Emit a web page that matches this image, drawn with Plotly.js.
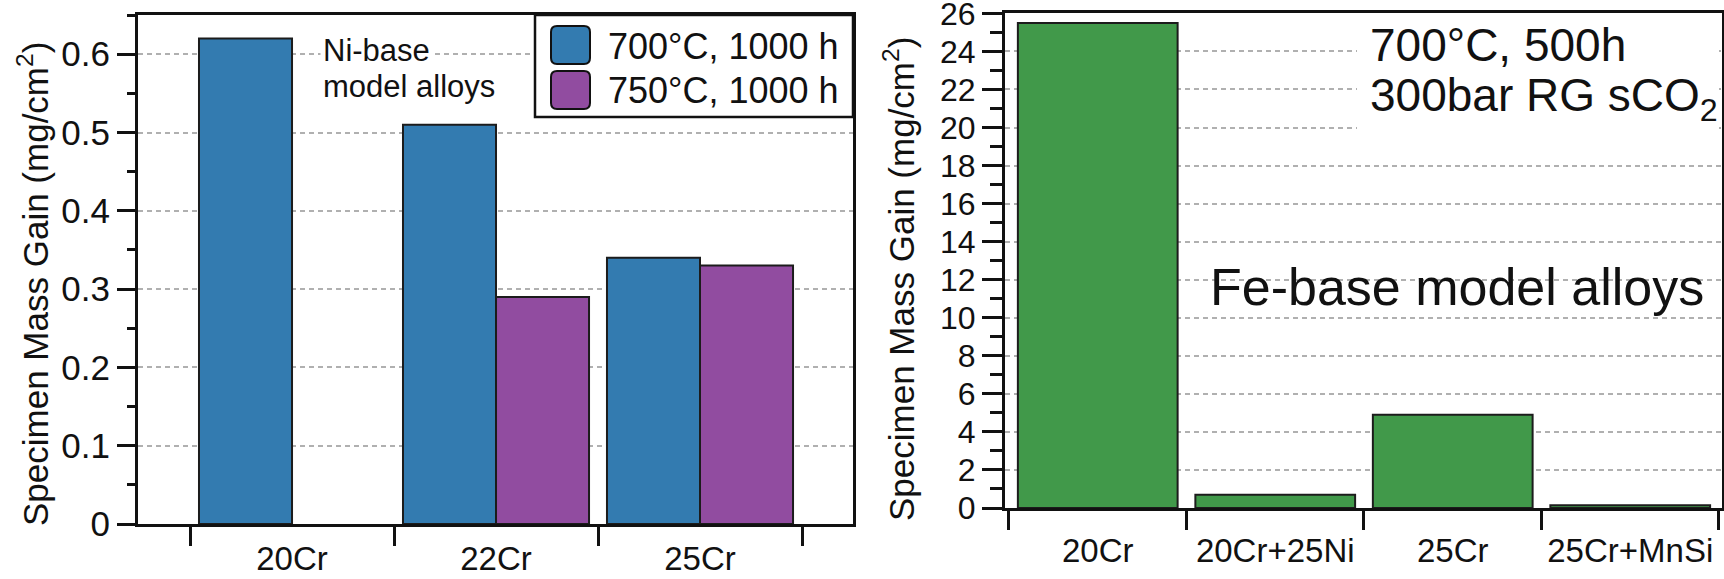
<!DOCTYPE html>
<html><head><meta charset="utf-8">
<script src="https://cdn.plot.ly/plotly-3.0.1.min.js"></script>
<style>html,body{margin:0;padding:0;background:#fff}#chart{width:1724px;height:579px}</style>
</head><body><div id="chart"></div>
<script>
// ---- data ----
const niAlloys = ['20Cr', '22Cr', '25Cr'];
const ni700 = [0.62, 0.51, 0.34];
const ni750 = [null, 0.29, 0.33];
const niSeriesNames = ['700°C, 1000 h', '750°C, 1000 h'];
const feAlloys = ['20Cr', '20Cr+25Ni', '25Cr', '25Cr+MnSi'];
const feGain = [25.5, 0.7, 4.9, 0.15];
const yTitle = 'Specimen Mass Gain (mg/cm<sup>2</sup>)';
const niLabel = ['Ni-base', 'model alloys'];
const feLabel = 'Fe-base model alloys';
const feCond = ['700°C, 500h', '300bar RG sCO<sub>2</sub>'];

// ---- layout helpers ----
const W = 1724, H = 579;
const px = x => x / W, py = y => 1 - y / H;
const FONT = 'Liberation Sans, Arial, Helvetica, sans-serif';
const INK = '#111';
const BLUE = '#337bb0', PURPLE = '#914ca0', GREEN = '#41994a';
const barLine = {color: '#1c1c1c', width: 2};

const traces = [
  {type: 'bar', x: niAlloys, y: ni700, name: niSeriesNames[0], xaxis: 'x', yaxis: 'y',
   marker: {color: BLUE, line: barLine}, showlegend: false},
  {type: 'bar', x: niAlloys, y: ni750, name: niSeriesNames[1], xaxis: 'x', yaxis: 'y',
   marker: {color: PURPLE, line: barLine}, showlegend: false},
  {type: 'bar', x: feAlloys, y: feGain, name: feLabel, xaxis: 'x2', yaxis: 'y2', width: 0.9,
   marker: {color: GREEN, line: barLine}, showlegend: false}
];

const frame = {showline: true, linecolor: INK, linewidth: 3, mirror: true, zeroline: false};
const xCommon = Object.assign({}, frame, {
  type: 'category', tickson: 'boundaries', ticks: 'outside', ticklen: 19, tickwidth: 3,
  tickcolor: INK, showgrid: false, tickangle: 0, ticklabeloverflow: 'allow'
});
const yCommon = Object.assign({}, frame, {
  ticks: 'outside', tickwidth: 3, tickcolor: INK, showgrid: true, gridcolor: '#b0b0b0',
  griddash: '5px,4px', gridwidth: 2, ticklabeloverflow: 'allow'
});

function rrect(x0, y0, x1, y1, r) {
  return `M${px(x0 + r)},${py(y0)} L${px(x1 - r)},${py(y0)} Q${px(x1)},${py(y0)} ${px(x1)},${py(y0 + r)} ` +
         `L${px(x1)},${py(y1 - r)} Q${px(x1)},${py(y1)} ${px(x1 - r)},${py(y1)} ` +
         `L${px(x0 + r)},${py(y1)} Q${px(x0)},${py(y1)} ${px(x0)},${py(y1 - r)} ` +
         `L${px(x0)},${py(y0 + r)} Q${px(x0)},${py(y0)} ${px(x0 + r)},${py(y0)} Z`;
}

const shapes = [
  // legend box
  {type: 'rect', xref: 'paper', yref: 'paper', x0: px(535), x1: px(853), y0: py(117), y1: py(15),
   line: {color: INK, width: 2.5}, fillcolor: '#fff', layer: 'above'},
  {type: 'path', xref: 'paper', yref: 'paper', path: rrect(551, 26, 590, 64, 6),
   fillcolor: BLUE, line: {color: INK, width: 2}, layer: 'above'},
  {type: 'path', xref: 'paper', yref: 'paper', path: rrect(551, 71, 590, 109, 6),
   fillcolor: PURPLE, line: {color: INK, width: 2}, layer: 'above'},
  // white backing behind condition text (right panel)
  {type: 'rect', xref: 'paper', yref: 'paper', x0: px(1357), x1: px(1719), y0: py(143), y1: py(14),
   line: {width: 0}, fillcolor: '#fff', layer: 'above'}
];

const ann = (text, x, y, size, opts) => Object.assign({
  text, xref: 'paper', yref: 'paper', x: px(x), y: py(y), showarrow: false,
  xanchor: 'left', yanchor: 'middle', font: {size, color: INK, family: FONT}
}, opts || {});

const annotations = [
  ann(yTitle, 33, 284, 35, {textangle: -90, xanchor: 'center'}),
  ann(yTitle, 899, 279, 35, {textangle: -90, xanchor: 'center'}),
  ann(niLabel[0], 320, 50, 31, {bgcolor: '#fff', borderpad: 2}),
  ann(niLabel[1], 320, 87, 31, {bgcolor: '#fff', borderpad: 2}),
  ann(niSeriesNames[0], 606, 46, 36),
  ann(niSeriesNames[1], 606, 90, 36),
  ann(feCond[0], 1368, 45, 46),
  ann(feCond[1], 1368, 99, 46),
  ann(feLabel, 1457, 287, 52, {xanchor: 'center'})
];

const layout = {
  width: W, height: H, margin: {l: 0, r: 0, t: 0, b: 0},
  paper_bgcolor: '#fff', plot_bgcolor: '#fff',
  font: {family: FONT, color: INK},
  barmode: 'group', bargap: 0.088, bargroupgap: 0,
  showlegend: false,
  xaxis: Object.assign({}, xCommon, {domain: [px(138), px(853)], anchor: 'y', range: [-0.755, 2.75],
    tickfont: {size: 33, color: INK, family: FONT}, ticklabelstandoff: 3}),
  yaxis: Object.assign({}, yCommon, {
    domain: [py(524), py(15)], anchor: 'x', range: [0, 0.6501], tick0: 0, dtick: 0.1,
    ticklen: 18, tickfont: {size: 35, color: INK, family: FONT}, ticklabelstandoff: 0,
    minor: {dtick: 0.05, ticks: 'outside', ticklen: 8, tickwidth: 3, tickcolor: INK, showgrid: false}
  }),
  xaxis2: Object.assign({}, xCommon, {domain: [px(1005), px(1722)], anchor: 'y2', range: [-0.5225, 3.517],
    tickfont: {size: 33, color: INK, family: FONT}, ticklabelstandoff: 11}),
  yaxis2: Object.assign({}, yCommon, {
    domain: [py(508), py(13)], anchor: 'x2', range: [0, 26.02], tick0: 0, dtick: 2,
    ticklen: 20, tickfont: {size: 32, color: INK, family: FONT}, ticklabelstandoff: 0,
    minor: {dtick: 1, ticks: 'outside', ticklen: 12, tickwidth: 3, tickcolor: INK, showgrid: false}
  }),
  shapes, annotations
};

Plotly.newPlot('chart', traces, layout, {staticPlot: true, displayModeBar: false});
</script>
</body></html>
